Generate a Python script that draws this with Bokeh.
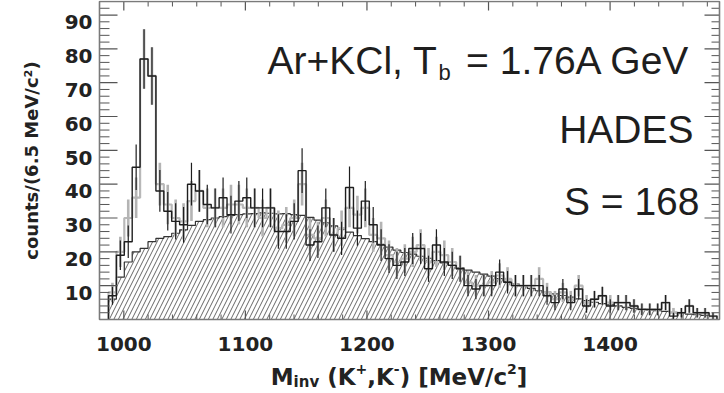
import numpy as np
from bokeh.plotting import figure
from bokeh.models import Label, Range1d
from bokeh.core.properties import value
from bokeh.embed import file_html
from bokeh.resources import INLINE

# K+K- invariant mass spectrum, 6.5 MeV/c^2 bins starting at the K+K- threshold
bin_start = 987.4
bin_width = 6.5

# same-event K+K- pairs (black histogram)
pairs_black = [7, 19, 23, 45, 77, 72, 38, 32, 29, 28,
               40, 38, 34, 33, 36, 31, 35, 36, 33, 33,
               33, 26, 26, 29, 44, 22, 23, 33, 25, 24,
               39, 27, 35, 28, 22, 18, 16, 17, 21, 21,
               15, 22, 17, 16, 15, 10, 9, 10, 10, 14,
               11, 10, 10, 10, 10, 7, 5, 9, 5, 9,
               4, 6, 7, 4, 5, 5, 4, 3, 3, 3,
               5, 1, 2, 4, 2, 2, 1]

# second selection (grey histogram)
pairs_grey = [8, 20, 30, 36, 77, 72, 40, 34, 30, 29,
              35, 38, 33, 33, 33, 34, 34, 33, 33, 30,
              33, 27, 28, 30, 40, 25, 24, 30, 25, 27,
              33, 31, 33, 25, 24, 19, 17, 18, 20, 22,
              17, 20, 19, 17, 15, 11, 10, 10, 11, 13,
              12, 10, 10, 10, 12, 8, 6, 8, 6, 10,
              5, 6, 7, 5, 5, 5, 4, 3, 3, 3,
              5, 2, 2, 4, 2, 2, 1]

# mixed-event combinatorial background (hatched)
mixed_bg = [6, 12.5, 17, 20, 21, 23, 24, 24.5, 25.5, 26.5,
            27.8, 29, 29.5, 30, 30.4, 30.8, 31, 31.2, 31.3, 31.5,
            31.4, 31.2, 31.3, 31, 30.8, 30.2, 29.4, 28.6, 27.7, 26.8,
            25.8, 24.8, 23.9, 23, 22.2, 21.4, 20.5, 19.8, 19.3, 18.7,
            18.1, 17.4, 16.7, 16, 15.3, 14.6, 14, 13.4, 12.8, 12.1,
            11.3, 10.5, 9.9, 9.2, 8.5, 8.1, 7.6, 7.1, 6.6, 6.1,
            5.6, 5.1, 4.7, 4.3, 4.0, 3.6, 3.3, 3.1, 2.8, 2.6,
            2.4, 2.1, 1.9, 1.6, 1.4, 1.2, 1.0]

x_major = [1000, 1100, 1200, 1300, 1400]
x_minor = list(range(980, 1491, 20))
y_major = [10, 20, 30, 40, 50, 60, 70, 80, 90]
y_minor = list(range(0, 95, 2))

# axis frame in data units and its placement on the page (pixels)
X_LO, X_HI = 980, 1490
Y_LO, Y_HI = 0, 94
W, H = 724, 393
F_LEFT, F_RIGHT, F_TOP, F_BOTTOM = 99, 719, 8, 326
KX = (X_HI - X_LO) / (F_RIGHT - F_LEFT)
KY = (Y_HI - Y_LO) / (F_BOTTOM - F_TOP)
# the canvas sits this many pixels below the top of the page
OY = 7


def sx(px):
    return X_LO + (px - F_LEFT) * KX


def sy(py):
    return Y_LO + (F_BOTTOM - py) * KY


n = len(pairs_black)
edges = bin_start + bin_width * np.arange(n + 1)
centers = 0.5 * (edges[:-1] + edges[1:])


def outline(vals):
    xs = [edges[0]] + list(edges) + [edges[-1]]
    ys = [0] + list(vals) + [vals[-1], 0]
    return xs, ys


# the plotting area spans the whole canvas; the axis box is drawn by hand
p = figure(width=W, height=H, x_range=Range1d(sx(0), sx(W)),
           y_range=Range1d(sy(H + OY), sy(OY)),
           output_backend="svg", toolbar_location=None, title=None,
           min_border=0, min_border_left=0, min_border_right=0,
           min_border_top=0, min_border_bottom=0)
p.axis.visible = False
p.grid.visible = False
p.outline_line_color = None
p.background_fill_color = "white"
p.border_fill_color = "white"

# hatched mixed-event background
p.varea_step(x=list(edges), y1=[0] * (n + 1), y2=list(mixed_bg) + [mixed_bg[-1]],
             step_mode="after", fill_color="white", fill_alpha=0.0,
             hatch_pattern="/", hatch_color="#666666", hatch_scale=9, hatch_weight=1)
bx, by = outline(mixed_bg)
p.step(x=bx, y=by, mode="after", line_color="#333333", line_width=1.2)

# grey histogram with error bars
g = np.array(pairs_grey, dtype=float)
gx, gy = outline(pairs_grey)
p.step(x=gx, y=gy, mode="after", line_color="#b8b8b8", line_width=2.2)
p.segment(x0=centers, y0=g - np.sqrt(g), x1=centers, y1=g + np.sqrt(g),
          line_color="#b4b4b4", line_width=2.6)

# black histogram with error bars
b = np.array(pairs_black, dtype=float)
kx, ky = outline(pairs_black)
p.step(x=kx, y=ky, mode="after", line_color="#1e1e1e", line_width=1.4)
p.segment(x0=centers, y0=b - np.sqrt(b), x1=centers, y1=b + np.sqrt(b),
          line_color="#1e1e1e", line_width=1.2)

# ticks on all four sides, pointing into the box
TICK = "#555555"
x_min_only = [t for t in x_minor if t not in x_major]
y_min_only = [t for t in y_minor if t not in y_major]
for y_edge, sgn in ((Y_LO, 1), (Y_HI, -1)):
    p.segment(x0=x_major, y0=[y_edge] * len(x_major), x1=x_major,
              y1=[y_edge + sgn * 9 * KY] * len(x_major), line_color=TICK, line_width=1.2)
    p.segment(x0=x_min_only, y0=[y_edge] * len(x_min_only), x1=x_min_only,
              y1=[y_edge + sgn * 5 * KY] * len(x_min_only), line_color=TICK, line_width=1)
for x_edge, sgn, lmaj, lmin in ((X_LO, 1, 18, 10), (X_HI, -1, 15, 8)):
    p.segment(x0=[x_edge] * len(y_major), y0=y_major, x1=[x_edge + sgn * lmaj * KX] * len(y_major),
              y1=y_major, line_color=TICK, line_width=1.2)
    p.segment(x0=[x_edge] * len(y_min_only), y0=y_min_only,
              x1=[x_edge + sgn * lmin * KX] * len(y_min_only),
              y1=y_min_only, line_color=TICK, line_width=1)

# axis box
p.quad(left=[X_LO], right=[X_HI], bottom=[Y_LO], top=[Y_HI], fill_color=None,
       line_color="#7a7a7a", line_width=1.6)

# tick labels
tick_style = dict(text_font=value("DejaVu Sans"), text_font_style="bold",
                  text_font_size="20px", text_color="#222222")
p.text(x=x_major, y=[sy(350)] * len(x_major), text=[str(t) for t in x_major],
       text_align="center", text_baseline="alphabetic", **tick_style)
p.text(x=[sx(92)] * len(y_major), y=[t - 7.3 * KY for t in y_major],
       text=[str(t) for t in y_major], text_align="right", text_baseline="alphabetic",
       **tick_style)

# annotations
TXT = "#1e1e1e"
ann = dict(text_font="Liberation Sans", text_color=TXT, text_baseline="alphabetic")
p.add_layout(Label(x=sx(267), y=sy(67), text="Ar+KCl, T", text_align="left",
                   text_font_size="39px", **ann))
p.add_layout(Label(x=sx(438), y=sy(79), text="b", text_align="left",
                   text_font_size="22px", **ann))
p.add_layout(Label(x=sx(690), y=sy(67), text="= 1.76A GeV", text_align="right",
                   text_font_size="39px", **ann))
p.add_layout(Label(x=sx(693), y=sy(136), text="HADES", text_align="right",
                   text_font_size="39px", **ann))
p.add_layout(Label(x=sx(699), y=sy(208), text="S = 168", text_align="right",
                   text_font_size="39px", **ann))

# axis titles
p.add_layout(Label(x=sx(31), y=sy(167), text="counts/(6.5 MeV/c²)", angle=np.pi / 2,
                   text_font="DejaVu Sans", text_font_style="bold", text_color="#222222",
                   text_font_size="18px", text_align="center", text_baseline="middle"))

lab = dict(text_font="DejaVu Sans", text_font_style="bold", text_color="#222222",
           text_baseline="alphabetic", text_align="left")
BIG, SUB, SUP = 23, 15, 14
SPACE = 0.348
# (text, font size, vertical offset in px, advance in em)
pieces = [("M", BIG, 0, 0.995), ("inv", SUB, 5, 1.707), (None, BIG, 0, SPACE),
          ("(K", BIG, 0, 1.232), ("+", SUP, -8, 0.838), (",K", BIG, 0, 1.155),
          ("-", SUP, -8, 0.415), (")", BIG, 0, 0.457), (None, BIG, 0, SPACE),
          ("[MeV/c", BIG, 0, 3.862), ("2", SUP, -8, 0.696), ("]", BIG, 0, 0.457)]
total = sum(adv * s for _, s, _, adv in pieces)
cur = 398.5 - total / 2
base = 383
for t, s, off, adv in pieces:
    if t is not None:
        p.add_layout(Label(x=sx(cur), y=sy(base + off), text=t, text_font_size=f"{s}px", **lab))
    cur += adv * s

open("out.html", "w").write(file_html(p, INLINE))
